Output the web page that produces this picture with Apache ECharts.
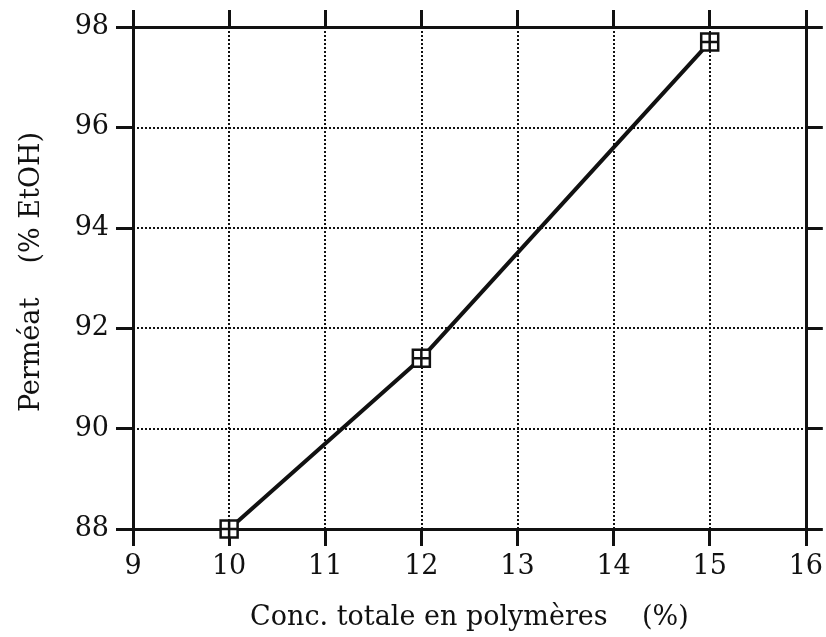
<!DOCTYPE html>
<html>
<head>
<meta charset="utf-8">
<script src="https://cdn.jsdelivr.net/npm/echarts@6/dist/echarts.min.js"></script>
<style>
  html, body { margin: 0; padding: 0; background: #ffffff; }
  #chart { width: 826px; height: 637px; }
</style>
</head>
<body>
<div id="chart"></div>
<script>
// Total polymer concentration (%) vs ethanol content of the permeate (%)
const concentration = [10, 12, 15];
const permeateEtOH = [88.0, 91.4, 97.7];

const xTitle = 'Conc. totale en polymères    (%)';
const yTitle = 'Perméat    (% EtOH)';

const ink = '#111111';
const serif = '"DejaVu Serif", "Liberation Serif", serif';

const tickStyle = { show: true, inside: false, length: 17, lineStyle: { color: ink, width: 3 } };
const lineStyle = { color: ink, width: 3 };
const gridDots = { show: true, lineStyle: { color: ink, width: 2, type: [2, 2] } };

const chart = echarts.init(document.getElementById('chart'));
chart.setOption({
  backgroundColor: '#ffffff',
  animation: false,
  grid: { left: 133, right: 20, top: 27, bottom: 108 },
  xAxis: [
    {
      type: 'value', position: 'bottom', min: 9, max: 16, interval: 1,
      axisLine: { show: true, onZero: false, lineStyle: lineStyle },
      axisTick: tickStyle,
      axisLabel: { margin: 24, color: ink, fontFamily: serif, fontSize: 27 },
      splitLine: gridDots,
      name: xTitle, nameLocation: 'middle', nameGap: 75,
      nameTextStyle: { color: ink, fontFamily: serif, fontSize: 27 }
    },
    {
      type: 'value', position: 'top', min: 9, max: 16, interval: 1,
      axisLine: { show: true, onZero: false, lineStyle: lineStyle },
      axisTick: tickStyle,
      axisLabel: { show: false },
      splitLine: { show: false }
    }
  ],
  yAxis: [
    {
      type: 'value', position: 'left', min: 88, max: 98, interval: 2,
      axisLine: { show: true, onZero: false, lineStyle: lineStyle },
      axisTick: tickStyle,
      axisLabel: { margin: 24, color: ink, fontFamily: serif, fontSize: 27 },
      splitLine: gridDots,
      name: yTitle, nameLocation: 'middle', nameGap: 88, nameRotate: 90,
      nameTextStyle: { color: ink, fontFamily: serif, fontSize: 27, padding: [0, 0, 0, 12] }
    },
    {
      type: 'value', position: 'right', min: 88, max: 98, interval: 2,
      axisLine: { show: true, onZero: false, lineStyle: lineStyle },
      axisTick: tickStyle,
      axisLabel: { show: false },
      splitLine: { show: false }
    }
  ],
  series: [
    {
      type: 'line',
      data: concentration.map((c, i) => [c, permeateEtOH[i]]),
      lineStyle: { color: ink, width: 4 },
      symbol: 'path://M0,0H16V16H0Z M8,0V16 M0,8H16',
      symbolSize: 17,
      symbolKeepAspect: true,
      itemStyle: { color: '#ffffff', borderColor: ink, borderWidth: 2.5 },
      z: 5
    }
  ]
});
</script>
</body>
</html>
